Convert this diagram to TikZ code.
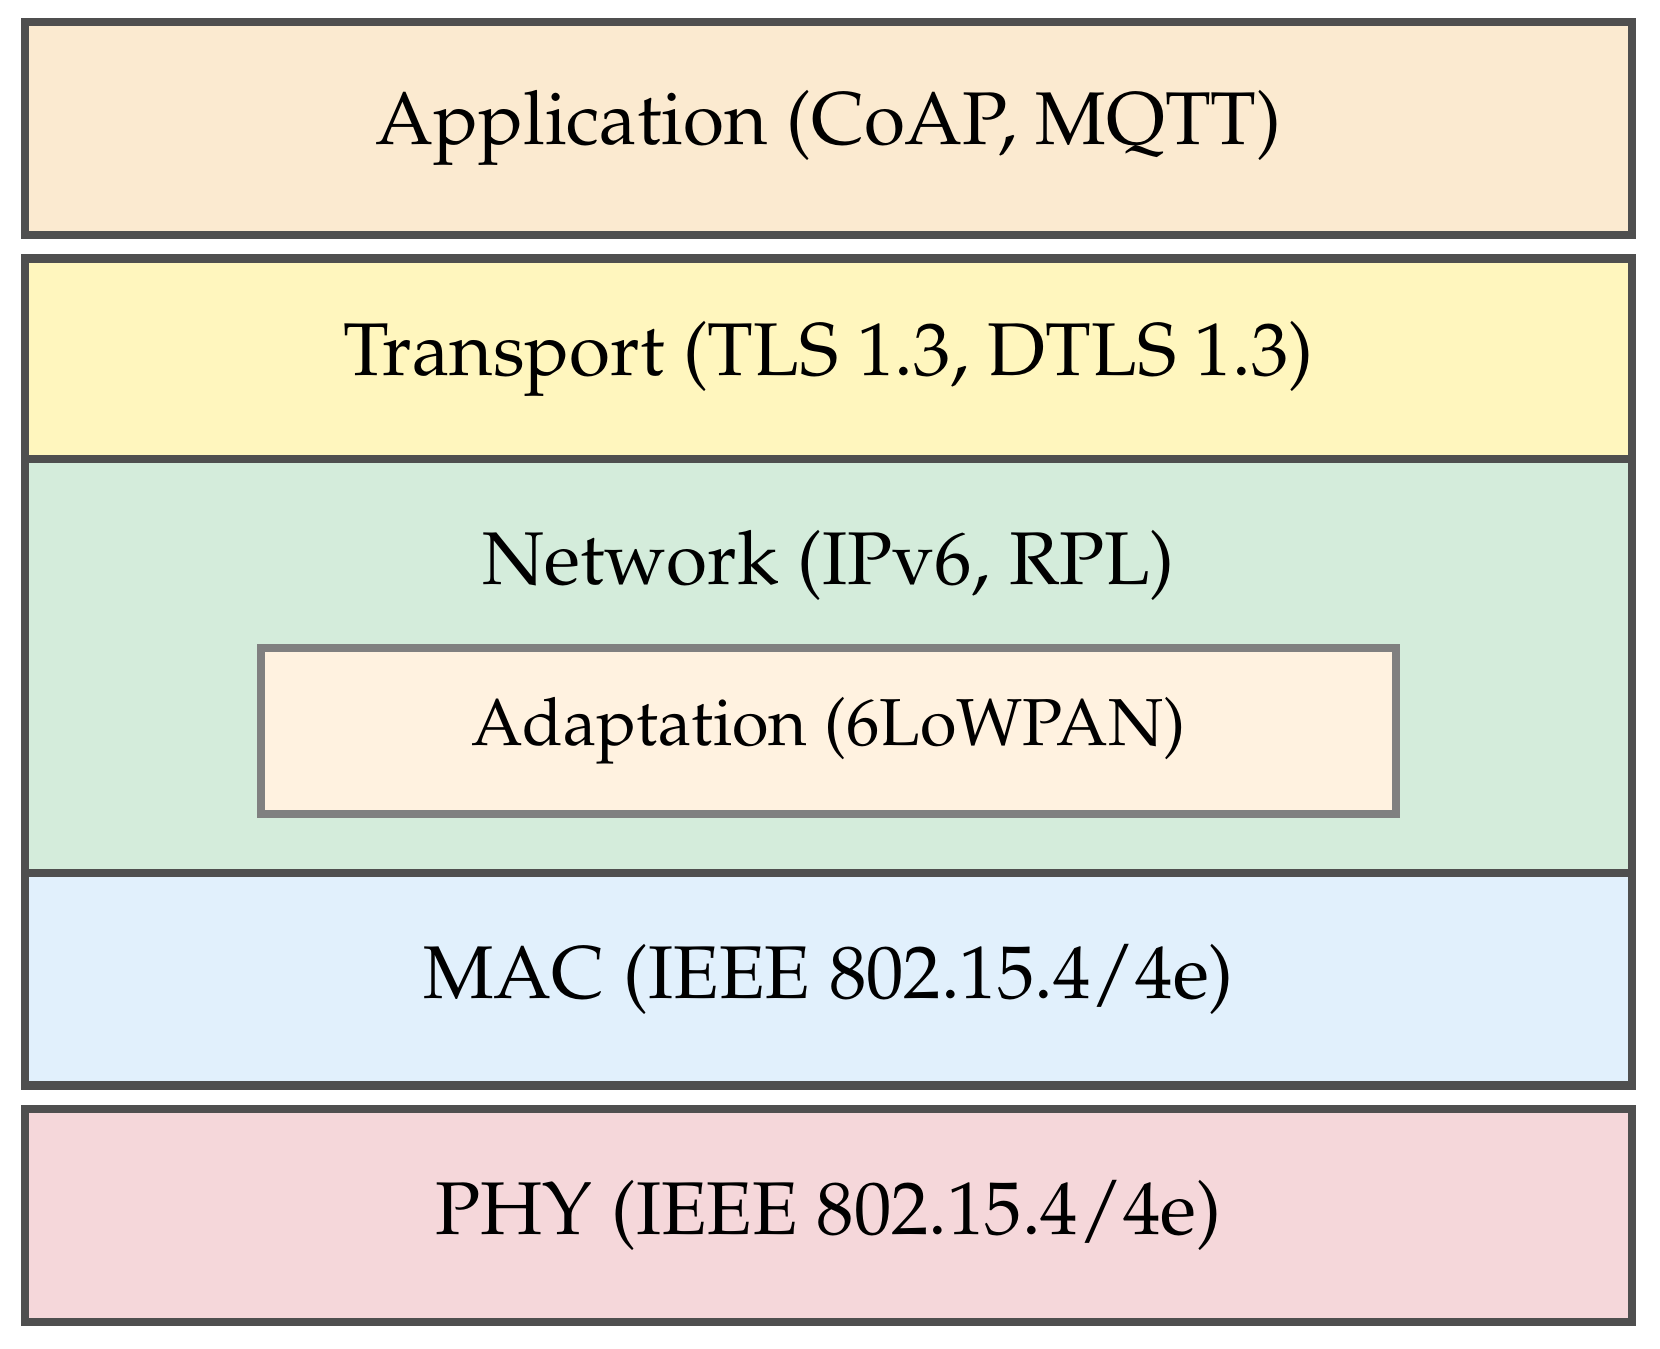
\documentclass[tikz,border=0pt]{standalone}
\usepackage[T1]{fontenc}
\usepackage{mathpazo}
\definecolor{edgegray}{RGB}{79,79,79}
\definecolor{subgray}{RGB}{128,128,128}
\definecolor{appfill}{RGB}{251,234,208}
\definecolor{trnfill}{RGB}{255,246,190}
\definecolor{netfill}{RGB}{212,236,219}
\definecolor{macfill}{RGB}{225,240,252}
\definecolor{phyfill}{RGB}{245,215,218}
\definecolor{adpfill}{RGB}{255,242,224}
\tikzset{
  layer/.style={draw=edgegray, line width=2.3pt, minimum width=16.07cm, inner sep=0pt, font=\fontsize{21.25}{25}\selectfont},
  sublayer/.style={draw=subgray, line width=2.2pt, fill=adpfill, minimum width=11.35cm, minimum height=1.655cm, inner sep=0pt, font=\fontsize{18.9}{23}\selectfont}
}
\begin{document}
\begin{tikzpicture}
  \useasboundingbox (0,0) rectangle (16.6,13.48);
  \node[layer, fill=appfill, minimum height=2.13cm] (app) at (8.285,12.195) {Application (CoAP, MQTT)};
  \node[layer, fill=trnfill, minimum height=2.005cm] (trn) at (8.285,9.8925) {Transport (TLS 1.3, DTLS 1.3)};
  \node[layer, fill=netfill, minimum height=4.14cm] (net) at (8.285,6.82) {};
  \node[layer, fill=macfill, minimum height=2.125cm] (mac) at (8.285,3.6875) {MAC (IEEE 802.15.4/4e)};
  \node[layer, fill=phyfill, minimum height=2.13cm] (phy) at (8.285,1.325) {PHY (IEEE 802.15.4/4e)};
  \node[sublayer] (adapt) at (8.285,6.17) {Adaptation (6LoWPAN)};
  \node[font=\fontsize{21.25}{25}\selectfont, anchor=base] (netlbl) at (8.285,7.63) {Network (IPv6, RPL)};
\end{tikzpicture}
\end{document}
